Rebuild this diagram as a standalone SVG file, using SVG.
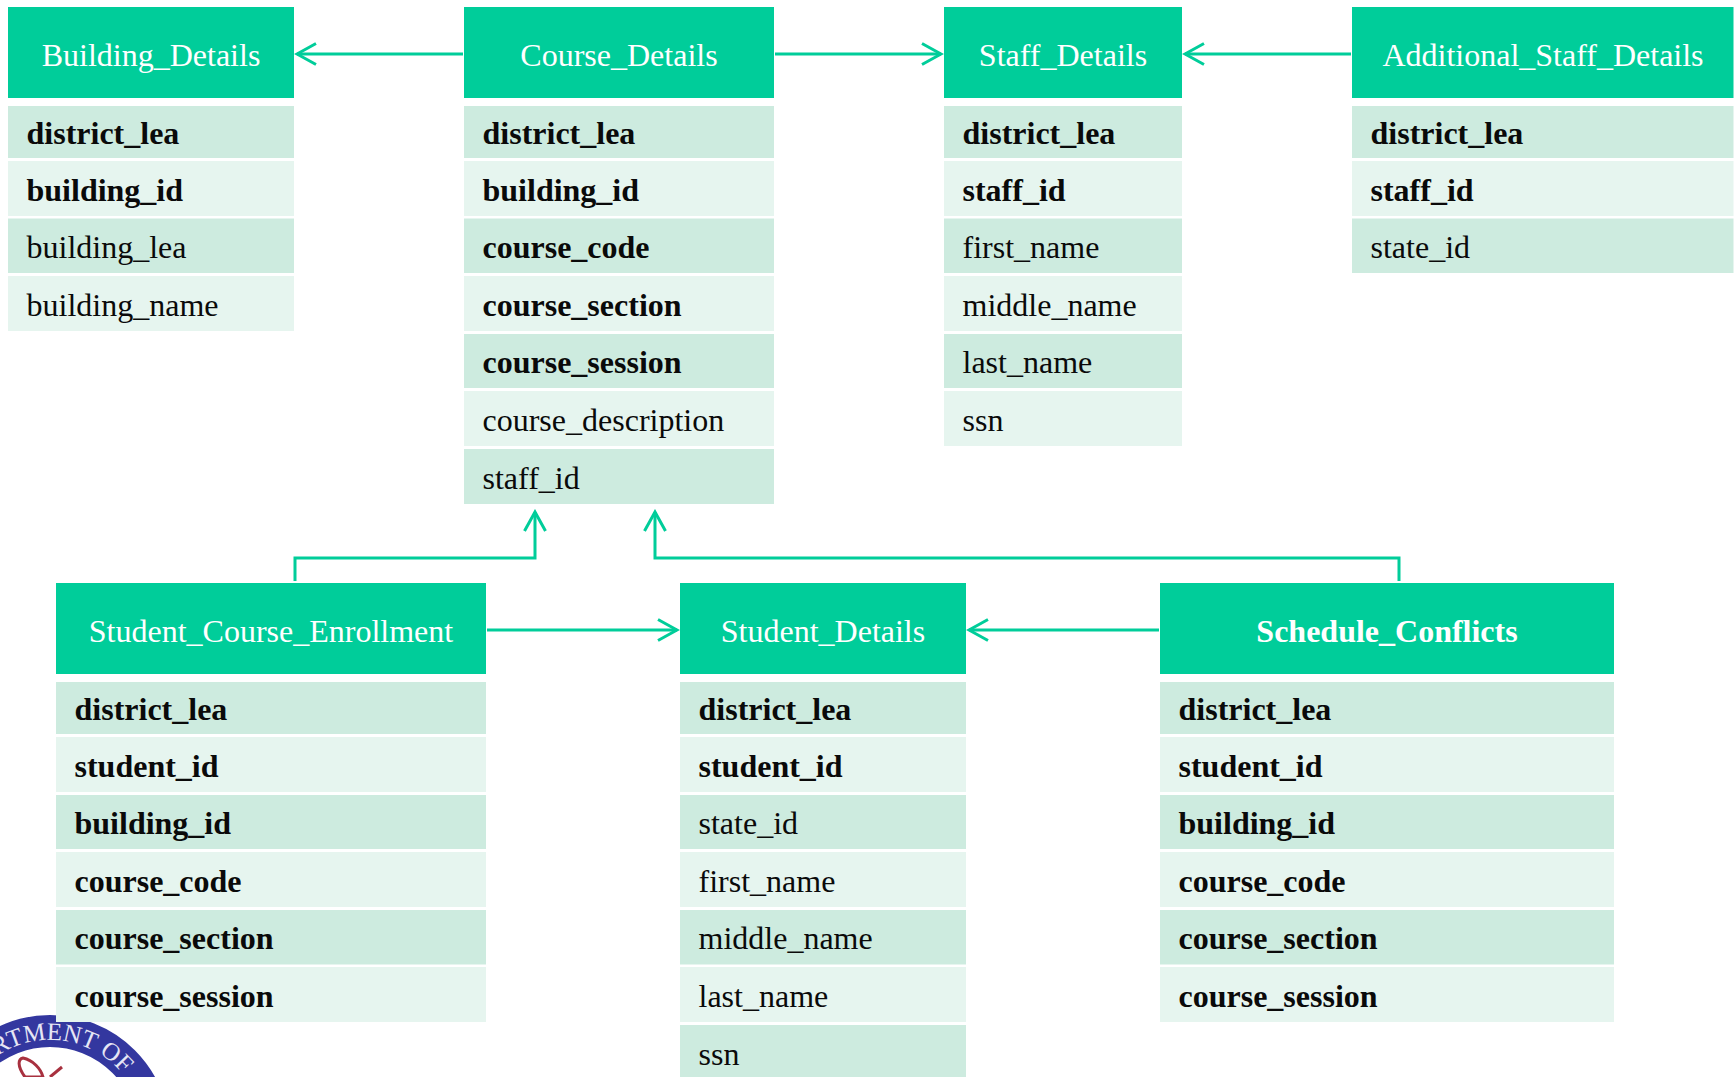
<svg xmlns="http://www.w3.org/2000/svg" xmlns:xlink="http://www.w3.org/1999/xlink" width="1735" height="1077" viewBox="0 0 1735 1077">
<style>
text{font-family:"Liberation Serif","Times New Roman",serif;font-size:32px;fill:#0a0a0a}
.h{fill:#00cd9a}.a{fill:#cdebdf}.b{fill:#e6f5ef}
.ht{fill:#fff;text-anchor:middle}.k{font-weight:700}
.c{fill:none;stroke:#00cd9a;stroke-width:3;marker-end:url(#arr)}
</style>
<defs><marker id="arr" markerUnits="userSpaceOnUse" markerWidth="24" markerHeight="28" refX="21" refY="12" orient="auto" viewBox="0 0 24 24"><path d="M2 1.500L21 12L2 22.500" fill="none" stroke="#00cd9a" stroke-width="3"/></marker></defs>
<rect width="1735" height="1077" fill="#fff"/>
<g id="seal">
<circle cx="50" cy="1135" r="104" fill="none" stroke="#33379f" stroke-width="32"/>
<path id="sealarc" d="M-45 1135A95 95 0 0 1 145 1135" fill="none"/>
<text style="font-size:25px;fill:#e6e6f5;text-anchor:end"><textPath xlink:href="#sealarc" startOffset="232">ARTMENT OF</textPath></text>
<path d="M25 1077C17 1066 18 1059 23 1058C33 1060 41 1069 43 1077Z" fill="#fff" stroke="#a8313f" stroke-width="3"/>
<path d="M50 1077L62 1067" fill="none" stroke="#a8313f" stroke-width="3"/>
</g>
<g id="Building_Details">
<rect class="h" x="8" y="7" width="286" height="91"/><text class="ht" x="151" y="66">Building_Details</text>
<rect class="a" x="8" y="106" width="286" height="52"/><text class="k" x="26.500" y="143.500">district_lea</text>
<rect class="b" x="8" y="161" width="286" height="55"/><text class="k" x="26.500" y="200.500">building_id</text>
<rect class="a" x="8" y="218.500" width="286" height="54.500"/><text x="26.500" y="258">building_lea</text>
<rect class="b" x="8" y="276" width="286" height="55"/><text x="26.500" y="315.500">building_name</text>
</g>
<g id="Course_Details">
<rect class="h" x="464" y="7" width="310" height="91"/><text class="ht" x="619" y="66">Course_Details</text>
<rect class="a" x="464" y="106" width="310" height="52"/><text class="k" x="482.500" y="143.500">district_lea</text>
<rect class="b" x="464" y="161" width="310" height="55"/><text class="k" x="482.500" y="200.500">building_id</text>
<rect class="a" x="464" y="218.500" width="310" height="54.500"/><text class="k" x="482.500" y="258">course_code</text>
<rect class="b" x="464" y="276" width="310" height="55"/><text class="k" x="482.500" y="315.500">course_section</text>
<rect class="a" x="464" y="334" width="310" height="54"/><text class="k" x="482.500" y="373">course_session</text>
<rect class="b" x="464" y="391" width="310" height="55"/><text x="482.500" y="431">course_description</text>
<rect class="a" x="464" y="449" width="310" height="55"/><text x="482.500" y="488.500">staff_id</text>
</g>
<g id="Staff_Details">
<rect class="h" x="944" y="7" width="238" height="91"/><text class="ht" x="1063" y="66">Staff_Details</text>
<rect class="a" x="944" y="106" width="238" height="52"/><text class="k" x="962.500" y="143.500">district_lea</text>
<rect class="b" x="944" y="161" width="238" height="55"/><text class="k" x="962.500" y="200.500">staff_id</text>
<rect class="a" x="944" y="218.500" width="238" height="54.500"/><text x="962.500" y="258">first_name</text>
<rect class="b" x="944" y="276" width="238" height="55"/><text x="962.500" y="315.500">middle_name</text>
<rect class="a" x="944" y="334" width="238" height="54"/><text x="962.500" y="373">last_name</text>
<rect class="b" x="944" y="391" width="238" height="55"/><text x="962.500" y="431">ssn</text>
</g>
<g id="Additional_Staff_Details">
<rect class="h" x="1352" y="7" width="381.500" height="91"/><text class="ht" x="1543" y="66">Additional_Staff_Details</text>
<rect class="a" x="1352" y="106" width="381.500" height="52"/><text class="k" x="1370.500" y="143.500">district_lea</text>
<rect class="b" x="1352" y="161" width="381.500" height="55"/><text class="k" x="1370.500" y="200.500">staff_id</text>
<rect class="a" x="1352" y="218.500" width="381.500" height="54.500"/><text x="1370.500" y="258">state_id</text>
</g>
<g id="Student_Course_Enrollment">
<rect class="h" x="56" y="583" width="430" height="91"/><text class="ht" x="271" y="642">Student_Course_Enrollment</text>
<rect class="a" x="56" y="682" width="430" height="52"/><text class="k" x="74.500" y="719.500">district_lea</text>
<rect class="b" x="56" y="737" width="430" height="55"/><text class="k" x="74.500" y="776.500">student_id</text>
<rect class="a" x="56" y="795" width="430" height="54"/><text class="k" x="74.500" y="834">building_id</text>
<rect class="b" x="56" y="852" width="430" height="55"/><text class="k" x="74.500" y="891.500">course_code</text>
<rect class="a" x="56" y="910" width="430" height="54.500"/><text class="k" x="74.500" y="949">course_section</text>
<rect class="b" x="56" y="967" width="430" height="55"/><text class="k" x="74.500" y="1006.500">course_session</text>
</g>
<g id="Student_Details">
<rect class="h" x="680" y="583" width="286" height="91"/><text class="ht" x="823" y="642">Student_Details</text>
<rect class="a" x="680" y="682" width="286" height="52"/><text class="k" x="698.500" y="719.500">district_lea</text>
<rect class="b" x="680" y="737" width="286" height="55"/><text class="k" x="698.500" y="776.500">student_id</text>
<rect class="a" x="680" y="795" width="286" height="54"/><text x="698.500" y="834">state_id</text>
<rect class="b" x="680" y="852" width="286" height="55"/><text x="698.500" y="891.500">first_name</text>
<rect class="a" x="680" y="910" width="286" height="54.500"/><text x="698.500" y="949">middle_name</text>
<rect class="b" x="680" y="967" width="286" height="55"/><text x="698.500" y="1006.500">last_name</text>
<rect class="a" x="680" y="1025" width="286" height="52"/><text x="698.500" y="1065">ssn</text>
</g>
<g id="Schedule_Conflicts">
<rect class="h" x="1160" y="583" width="454" height="91"/><text class="ht k" x="1387" y="642">Schedule_Conflicts</text>
<rect class="a" x="1160" y="682" width="454" height="52"/><text class="k" x="1178.500" y="719.500">district_lea</text>
<rect class="b" x="1160" y="737" width="454" height="55"/><text class="k" x="1178.500" y="776.500">student_id</text>
<rect class="a" x="1160" y="795" width="454" height="54"/><text class="k" x="1178.500" y="834">building_id</text>
<rect class="b" x="1160" y="852" width="454" height="55"/><text class="k" x="1178.500" y="891.500">course_code</text>
<rect class="a" x="1160" y="910" width="454" height="54.500"/><text class="k" x="1178.500" y="949">course_section</text>
<rect class="b" x="1160" y="967" width="454" height="55"/><text class="k" x="1178.500" y="1006.500">course_session</text>
</g>
<g id="connectors">
<path class="c" d="M463 54H297"/>
<path class="c" d="M775 54H941"/>
<path class="c" d="M1351 54H1185"/>
<path class="c" d="M487 630H677"/>
<path class="c" d="M1159 630H969"/>
<path class="c" d="M295 581V558H535V512"/>
<path class="c" d="M1399 581V558H655V512"/>
</g>
</svg>
